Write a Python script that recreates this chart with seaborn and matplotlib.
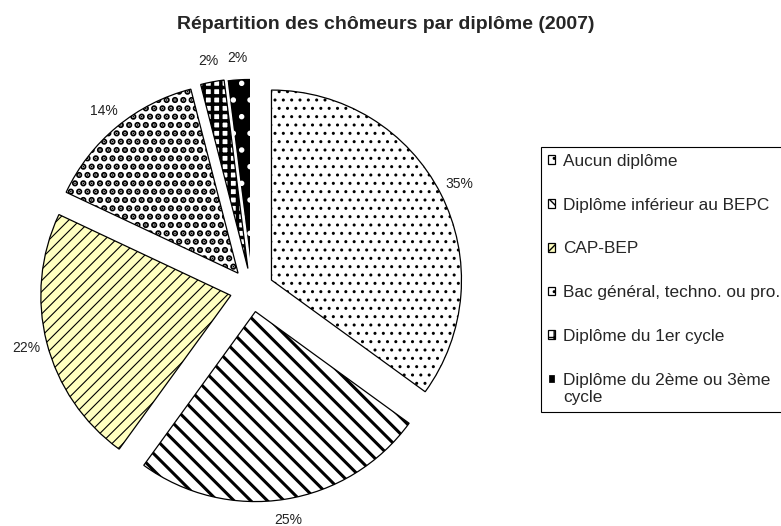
import matplotlib
matplotlib.use("Agg")
import matplotlib.pyplot as plt
import seaborn as sns

# Données (%)
categories = [
    "Aucun diplôme",
    "Diplôme inférieur au BEPC",
    "CAP-BEP",
    "Bac général, techno. ou pro.",
    "Diplôme du 1er cycle",
    "Diplôme du 2ème ou 3ème\ncycle",
]
parts = [35, 25, 22, 14, 2, 2]

faces = ["white", "white", "#FFFFC0", "white", "white", "black"]
hatches = ["..", "\\\\", "///", "..", "++", "."]
hatch_lw = [1.0, 2.2, 0.8, 3.2, 2.5, 1.5]

sns.set_theme(style="white")
plt.rcParams["font.family"] = ["Liberation Sans", "DejaVu Sans"]

fig = plt.figure(figsize=(7.81, 5.26), dpi=100)
ax = fig.add_axes([0, 0, 1, 1])

wedges, _, pct_txt = ax.pie(
    parts,
    explode=[0.115] * len(parts),
    startangle=90,
    counterclock=False,
    autopct="%1.0f%%",
    pctdistance=1.11,
    colors=faces,
    wedgeprops=dict(edgecolor="black", linewidth=0.9),
    textprops=dict(fontsize=10, color="#222222"),
)

for w, h, lw in zip(wedges, hatches, hatch_lw):
    w.set_hatch(h)
    if hasattr(w, "set_hatch_linewidth"):
        w.set_hatch_linewidth(lw)
    else:
        w._hatch_linewidth = lw
# dernière part : fond noir, points blancs
wedges[-1].set_edgecolor("white")

# repère en pixels : rayon ~190 px, centre ~(252, 290)
R_px, cx, cy = 190, 252, 290
ax.set_xlim(-cx / R_px, (781 - cx) / R_px)
ax.set_ylim(-(526 - cy) / R_px, cy / R_px)
ax.set_aspect("auto")
ax.axis("off")

fig.text(386 / 781, 1 - 29 / 526, "Répartition des chômeurs par diplôme (2007)",
         ha="center", va="baseline", fontsize=14, fontweight="bold")

leg = fig.legend(
    wedges, categories,
    loc="upper left", bbox_to_anchor=(541 / 781, 1 - 147 / 526),
    frameon=True, fancybox=False, shadow=False, framealpha=1,
    edgecolor="black", fontsize=12.4,
    handlelength=0.42, handleheight=0.42, handletextpad=0.45,
    labelspacing=1.67, borderpad=0.4, borderaxespad=0,
)
leg.get_frame().set_linewidth(0.8)
# marqueur de la dernière entrée sur la première ligne du texte
h_last = leg.legend_handles[-1]
h_last.set_y(h_last.get_y() + 7.4)

fig.savefig("out.png", dpi=100)
